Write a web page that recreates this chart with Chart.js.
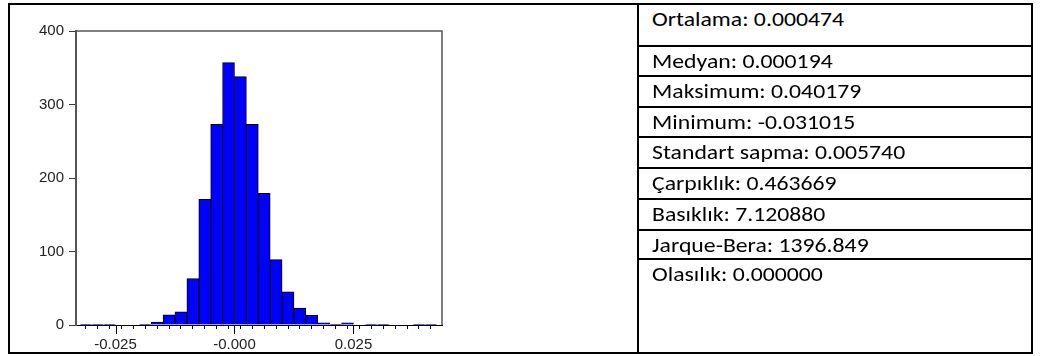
<!DOCTYPE html>
<html>
<head>
<meta charset="utf-8">
<script src="https://cdn.jsdelivr.net/npm/chart.js@4/dist/chart.umd.min.js"></script>
<style>
  html, body { margin: 0; padding: 0; background: #fff; }
  body { width: 1041px; height: 356px; position: relative; overflow: hidden; }
  .ln { position: absolute; background: #000; }
  #hist { position: absolute; left: 0; top: 0; }
  .stat { position: absolute; left: 652px; font-family: Carlito, Calibri, 'Open Sans', sans-serif; font-size: 19.5px;
          line-height: 20px; color: #000; white-space: nowrap; transform: scaleX(1.217); transform-origin: left center; }
</style>
</head>
<body>
<canvas id="hist" width="630" height="356"></canvas>
<script>
// histogram bins (bin width 0.0025) and counts
const binCenters = [-0.03125, -0.02875, -0.02625, -0.02375, -0.02125, -0.01875, -0.01625, -0.01375,
  -0.01125, -0.00875, -0.00625, -0.00375, -0.00125, 0.00125, 0.00375, 0.00625, 0.00875, 0.01125,
  0.01375, 0.01625, 0.01875, 0.02125, 0.02375, 0.02625, 0.02875, 0.03125, 0.03375, 0.03625, 0.03875, 0.04125];
const counts = [1, 1, 1, 0, 0, 1, 4, 14, 18, 63, 171, 273, 357, 338, 273, 179, 89, 45, 23, 13,
  3, 1, 3, 0, 1, 1, 0, 0, 1, 1];
const xTickValues = [-0.025, 0, 0.025];
const xTickLabels = ['-0.025', '-0.000', '0.025'];

const statLabels = ['Ortalama', 'Medyan', 'Maksimum', 'Minimum', 'Standart sapma',
  'Çarpıklık', 'Basıklık', 'Jarque-Bera', 'Olasılık'];
const statValues = ['0.000474', '0.000194', '0.040179', '-0.031015', '0.005740',
  '0.463669', '7.120880', '1396.849', '0.000000'];

// table lines
function line(x, y, w, h) {
  const d = document.createElement('div');
  d.className = 'ln';
  d.style.left = x + 'px'; d.style.top = y + 'px';
  d.style.width = w + 'px'; d.style.height = h + 'px';
  document.body.appendChild(d);
}
line(8, 3, 1025, 2);
line(8, 352, 1025, 2);
line(8, 3, 2, 351);
line(1031, 3, 2, 351);
line(637, 3, 2, 351);

const rowTops = [4, 46, 76, 107, 137, 168, 199, 230, 259];
rowTops.forEach((y, i) => {
  if (i > 0) line(637, y - 1, 396, 2);
  const s = document.createElement('div');
  s.className = 'stat';
  const base = i === 0 ? 26 : y + 22;
  s.style.top = (base - 16.7) + 'px';
  s.textContent = statLabels[i] + ': ' + statValues[i];
  document.body.appendChild(s);
});

// frame round the plot plus the long major ticks
const plotFrame = {
  id: 'plotFrame',
  afterDraw(chart) {
    const {ctx, chartArea: {left, top, right, bottom}, scales: {x}} = chart;
    ctx.save();
    ctx.strokeStyle = '#555';
    ctx.lineWidth = 1.5;
    ctx.beginPath();
    ctx.moveTo(left, top);
    ctx.lineTo(right, top);
    ctx.lineTo(right, bottom);
    ctx.stroke();
    ctx.strokeStyle = '#000';
    ctx.lineWidth = 1;
    xTickValues.forEach(v => {
      const px = Math.round(x.getPixelForValue(v)) + 0.5;
      ctx.beginPath();
      ctx.moveTo(px, bottom);
      ctx.lineTo(px, bottom + 9);
      ctx.stroke();
    });
    ctx.restore();
  }
};

const tickFont = {family: "'Liberation Sans', Arial, sans-serif", size: 15};

new Chart(document.getElementById('hist'), {
  type: 'bar',
  data: {
    datasets: [{
      data: binCenters.map((c, i) => ({x: c, y: counts[i]})),
      backgroundColor: '#0000ff',
      borderColor: '#000',
      borderWidth: 1,
      barPercentage: 1,
      categoryPercentage: 1
    }]
  },
  options: {
    responsive: false,
    animation: false,
    layout: {padding: {left: 0, top: 31, right: 188, bottom: 0}},
    plugins: {legend: {display: false}, tooltip: {enabled: false}},
    scales: {
      x: {
        type: 'linear',
        min: -0.0333,
        max: 0.0436,
        offset: false,
        grid: {drawOnChartArea: false, drawTicks: true, tickLength: 4, color: '#000'},
        border: {display: true, color: '#000', width: 1},
        ticks: {
          stepSize: 0.0025,
          includeBounds: false,
          autoSkip: false,
          maxRotation: 0,
          padding: 7,
          color: '#222',
          font: tickFont,
          callback: function(value) {
            const i = xTickValues.findIndex(v => Math.abs(v - value) < 1e-9);
            return i >= 0 ? xTickLabels[i] : '';
          }
        },
        afterFit: function(s) { s.height = 31; }
      },
      y: {
        min: 0,
        max: 400,
        grid: {drawOnChartArea: false, tickLength: 7, color: '#333'},
        border: {color: '#555', width: 2},
        ticks: {stepSize: 100, padding: 5, color: '#222', font: tickFont},
        afterFit: function(s) { s.width = 76; }
      }
    }
  },
  plugins: [plotFrame]
});
</script>
</body>
</html>
